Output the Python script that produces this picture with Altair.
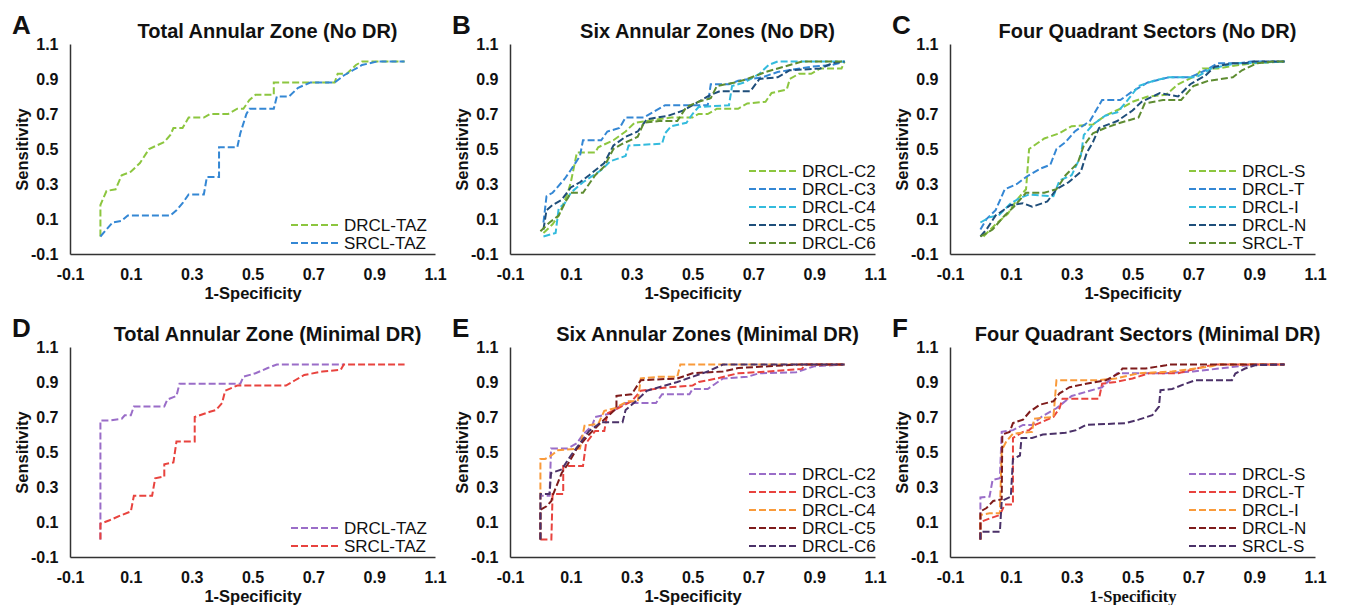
import altair as alt
import pandas as pd

FONT = "Liberation Sans"
TICKS = [-0.1, 0.1, 0.3, 0.5, 0.7, 0.9, 1.1]
W, H = 365, 210

# ---------------- Panel A : Total Annular Zone (No DR) ----------------
A_names = ["DRCL-TAZ", "SRCL-TAZ"]
A_colors = ["#8CC63F", "#3487D4"]
A_DRCL_TAZ_x = [0, 0, 0.02, 0.05, 0.07, 0.10, 0.13, 0.16, 0.21, 0.23, 0.24, 0.27, 0.29, 0.34, 0.36, 0.42, 0.45, 0.47, 0.49, 0.51, 0.57, 0.57, 0.77, 0.78, 0.81, 0.84, 0.86, 1.0]
A_DRCL_TAZ_y = [0, 0.18, 0.26, 0.27, 0.35, 0.37, 0.42, 0.50, 0.54, 0.58, 0.62, 0.62, 0.68, 0.68, 0.70, 0.70, 0.73, 0.73, 0.78, 0.81, 0.81, 0.88, 0.88, 0.93, 0.93, 0.98, 1.0, 1.0]
A_SRCL_TAZ_x = [0, 0.02, 0.04, 0.07, 0.09, 0.23, 0.25, 0.27, 0.29, 0.34, 0.35, 0.39, 0.39, 0.45, 0.46, 0.48, 0.49, 0.57, 0.58, 0.62, 0.65, 0.69, 0.77, 0.80, 0.83, 0.86, 0.91, 1.0]
A_SRCL_TAZ_y = [0, 0.04, 0.08, 0.09, 0.12, 0.12, 0.15, 0.19, 0.24, 0.24, 0.34, 0.34, 0.51, 0.51, 0.59, 0.70, 0.73, 0.73, 0.80, 0.80, 0.85, 0.88, 0.88, 0.92, 0.95, 0.98, 1.0, 1.0]

# ---------------- Panel B : Six Annular Zones (No DR) ----------------
B_names = ["DRCL-C2", "DRCL-C3", "DRCL-C4", "DRCL-C5", "DRCL-C6"]
B_colors = ["#8CC63F", "#3487D4", "#33BBDD", "#1F4E7A", "#5E8C31"]
B_C2_x = [0.01, 0.04, 0.06, 0.09, 0.10, 0.12, 0.18, 0.19, 0.24, 0.28, 0.31, 0.43, 0.50, 0.52, 0.55, 0.58, 0.65, 0.68, 0.74, 0.76, 0.81, 0.82, 0.85, 0.89, 0.92, 0.99, 1.0]
B_C2_y = [0.02, 0.07, 0.12, 0.25, 0.31, 0.48, 0.48, 0.51, 0.55, 0.60, 0.65, 0.68, 0.68, 0.70, 0.70, 0.73, 0.73, 0.76, 0.77, 0.82, 0.84, 0.90, 0.93, 0.93, 0.96, 0.96, 1.0]
B_C3_x = [0.01, 0.02, 0.04, 0.08, 0.10, 0.13, 0.14, 0.20, 0.22, 0.26, 0.28, 0.34, 0.37, 0.41, 0.47, 0.55, 0.56, 0.62, 0.65, 0.73, 0.78, 0.89, 0.96, 1.0]
B_C3_y = [0.08, 0.23, 0.25, 0.33, 0.38, 0.46, 0.55, 0.55, 0.60, 0.62, 0.68, 0.68, 0.71, 0.75, 0.75, 0.75, 0.87, 0.87, 0.89, 0.91, 0.94, 0.97, 0.98, 1.0]
B_C4_x = [0.01, 0.05, 0.06, 0.08, 0.10, 0.14, 0.20, 0.23, 0.28, 0.29, 0.40, 0.41, 0.43, 0.48, 0.50, 0.52, 0.62, 0.63, 0.67, 0.72, 0.75, 0.78, 1.0]
B_C4_y = [0.0, 0.02, 0.16, 0.19, 0.25, 0.31, 0.38, 0.43, 0.46, 0.52, 0.53, 0.59, 0.63, 0.65, 0.70, 0.74, 0.75, 0.86, 0.88, 0.93, 0.98, 1.0, 1.0]
B_C5_x = [0.01, 0.02, 0.04, 0.07, 0.10, 0.13, 0.16, 0.21, 0.24, 0.28, 0.32, 0.35, 0.42, 0.47, 0.52, 0.56, 0.59, 0.69, 0.72, 0.78, 0.82, 0.92, 0.96, 1.0]
B_C5_y = [0.04, 0.15, 0.18, 0.21, 0.28, 0.31, 0.35, 0.42, 0.52, 0.57, 0.60, 0.67, 0.69, 0.72, 0.77, 0.81, 0.83, 0.83, 0.90, 0.91, 0.95, 0.96, 0.99, 1.0]
B_C6_x = [0.0, 0.03, 0.06, 0.08, 0.10, 0.14, 0.18, 0.21, 0.24, 0.27, 0.32, 0.34, 0.39, 0.45, 0.48, 0.52, 0.56, 0.58, 0.64, 0.68, 0.74, 0.82, 0.86, 1.0]
B_C6_y = [0.03, 0.08, 0.12, 0.19, 0.25, 0.25, 0.35, 0.40, 0.50, 0.53, 0.57, 0.65, 0.66, 0.66, 0.74, 0.77, 0.79, 0.86, 0.88, 0.90, 0.94, 0.98, 1.0, 1.0]

# ---------------- Panel C : Four Quadrant Sectors (No DR) ----------------
C_names = ["DRCL-S", "DRCL-T", "DRCL-I", "DRCL-N", "SRCL-T"]
C_colors = ["#8CC63F", "#3487D4", "#33BBDD", "#1F4E7A", "#5E8C31"]
C_S_x = [0.01, 0.05, 0.09, 0.12, 0.15, 0.16, 0.21, 0.26, 0.30, 0.37, 0.41, 0.46, 0.50, 0.55, 0.61, 0.65, 0.71, 0.73, 0.78, 0.85, 0.90, 1.0]
C_S_y = [0.0, 0.07, 0.13, 0.21, 0.27, 0.50, 0.56, 0.59, 0.63, 0.64, 0.69, 0.73, 0.77, 0.80, 0.81, 0.87, 0.92, 0.96, 0.96, 0.98, 0.99, 1.0]
C_T_x = [0.0, 0.02, 0.05, 0.08, 0.12, 0.15, 0.20, 0.23, 0.25, 0.28, 0.31, 0.36, 0.40, 0.46, 0.50, 0.55, 0.62, 0.69, 0.74, 0.78, 0.85, 0.89, 1.0]
C_T_y = [0.04, 0.10, 0.15, 0.27, 0.30, 0.34, 0.39, 0.41, 0.50, 0.54, 0.60, 0.66, 0.78, 0.78, 0.83, 0.88, 0.91, 0.91, 0.95, 0.99, 0.99, 1.0, 1.0]
C_I_x = [0.0, 0.03, 0.06, 0.10, 0.13, 0.16, 0.24, 0.26, 0.30, 0.33, 0.34, 0.37, 0.41, 0.45, 0.48, 0.52, 0.57, 0.62, 0.71, 0.76, 0.84, 0.88, 1.0]
C_I_y = [0.08, 0.11, 0.12, 0.19, 0.22, 0.24, 0.23, 0.32, 0.35, 0.46, 0.58, 0.64, 0.69, 0.71, 0.77, 0.86, 0.89, 0.91, 0.91, 0.96, 0.99, 0.99, 1.0]
C_N_x = [0.0, 0.02, 0.05, 0.10, 0.14, 0.17, 0.22, 0.25, 0.29, 0.33, 0.35, 0.37, 0.39, 0.45, 0.50, 0.53, 0.59, 0.65, 0.69, 0.74, 0.77, 0.83, 0.87, 0.90, 1.0]
C_N_y = [0.0, 0.04, 0.12, 0.18, 0.19, 0.17, 0.20, 0.27, 0.31, 0.37, 0.48, 0.54, 0.62, 0.66, 0.72, 0.77, 0.82, 0.80, 0.87, 0.92, 0.97, 0.99, 0.99, 1.0, 1.0]
C_SRCL_T_x = [0.0, 0.04, 0.08, 0.11, 0.15, 0.21, 0.25, 0.28, 0.32, 0.34, 0.37, 0.41, 0.46, 0.52, 0.54, 0.60, 0.66, 0.70, 0.75, 0.83, 0.86, 0.91, 0.96, 1.0]
C_SRCL_T_y = [0.0, 0.04, 0.12, 0.17, 0.25, 0.25, 0.27, 0.35, 0.42, 0.52, 0.59, 0.62, 0.65, 0.68, 0.76, 0.78, 0.78, 0.86, 0.89, 0.91, 0.95, 0.99, 1.0, 1.0]

# ---------------- Panel D : Total Annular Zone (Minimal DR) ----------------
D_names = ["DRCL-TAZ", "SRCL-TAZ"]
D_colors = ["#9A6DC8", "#E8433E"]
D_DRCL_TAZ_x = [0, 0, 0.03, 0.07, 0.08, 0.10, 0.11, 0.21, 0.22, 0.25, 0.26, 0.46, 0.47, 0.51, 0.55, 0.58, 0.80]
D_DRCL_TAZ_y = [0, 0.68, 0.68, 0.69, 0.71, 0.71, 0.76, 0.76, 0.80, 0.82, 0.89, 0.89, 0.93, 0.95, 0.98, 1.0, 1.0]
D_SRCL_TAZ_x = [0, 0, 0.03, 0.07, 0.10, 0.11, 0.17, 0.18, 0.21, 0.21, 0.24, 0.25, 0.31, 0.31, 0.36, 0.38, 0.40, 0.41, 0.45, 0.61, 0.64, 0.67, 0.73, 0.79, 0.80, 1.0]
D_SRCL_TAZ_y = [0, 0.09, 0.11, 0.14, 0.16, 0.25, 0.25, 0.35, 0.36, 0.43, 0.44, 0.56, 0.56, 0.70, 0.73, 0.74, 0.78, 0.85, 0.88, 0.88, 0.91, 0.94, 0.96, 0.97, 1.0, 1.0]

# ---------------- Panel E : Six Annular Zones (Minimal DR) ----------------
E_names = ["DRCL-C2", "DRCL-C3", "DRCL-C4", "DRCL-C5", "DRCL-C6"]
E_colors = ["#9A6DC8", "#E8433E", "#F99A3A", "#7E1B1B", "#4B3168"]
E_C2_x = [0, 0, 0.03, 0.035, 0.09, 0.12, 0.14, 0.17, 0.18, 0.23, 0.26, 0.28, 0.38, 0.40, 0.49, 0.50, 0.55, 0.60, 0.68, 0.72, 0.84, 0.90, 1.0]
E_C2_y = [0, 0.25, 0.25, 0.52, 0.52, 0.55, 0.60, 0.65, 0.70, 0.72, 0.76, 0.78, 0.78, 0.83, 0.83, 0.86, 0.86, 0.92, 0.93, 0.95, 0.955, 0.99, 1.0]
E_C3_x = [0, 0.036, 0.04, 0.075, 0.075, 0.14, 0.15, 0.18, 0.21, 0.22, 0.255, 0.30, 0.33, 0.42, 0.50, 0.52, 0.58, 0.65, 0.75, 0.86, 0.87, 1.0]
E_C3_y = [0, 0, 0.26, 0.26, 0.42, 0.42, 0.55, 0.62, 0.62, 0.72, 0.75, 0.79, 0.85, 0.87, 0.88, 0.90, 0.92, 0.95, 0.96, 0.975, 1.0, 1.0]
E_C4_x = [0, 0, 0.015, 0.036, 0.057, 0.13, 0.145, 0.19, 0.21, 0.245, 0.286, 0.32, 0.33, 0.39, 0.45, 0.46, 1.0]
E_C4_y = [0, 0.46, 0.46, 0.48, 0.51, 0.52, 0.65, 0.66, 0.735, 0.75, 0.79, 0.79, 0.92, 0.93, 0.93, 1.0, 1.0]
E_C5_x = [0, 0, 0.02, 0.036, 0.04, 0.07, 0.09, 0.12, 0.14, 0.16, 0.20, 0.25, 0.25, 0.30, 0.33, 0.45, 0.50, 0.60, 0.65, 0.75, 0.85, 1.0]
E_C5_y = [0, 0.17, 0.19, 0.22, 0.25, 0.38, 0.43, 0.52, 0.56, 0.60, 0.67, 0.75, 0.82, 0.83, 0.91, 0.92, 0.95, 0.96, 0.98, 0.99, 1.0, 1.0]
E_C6_x = [0, 0, 0.03, 0.035, 0.07, 0.10, 0.13, 0.16, 0.20, 0.27, 0.28, 0.32, 0.35, 0.45, 0.50, 0.55, 0.60, 1.0]
E_C6_y = [0, 0.26, 0.26, 0.38, 0.40, 0.48, 0.55, 0.62, 0.67, 0.67, 0.74, 0.80, 0.85, 0.90, 0.93, 0.96, 1.0, 1.0]

# ---------------- Panel F : Four Quadrant Sectors (Minimal DR) ----------------
F_names = ["DRCL-S", "DRCL-T", "DRCL-I", "DRCL-N", "SRCL-S"]
F_colors = ["#9A6DC8", "#E8433E", "#F99A3A", "#7E1B1B", "#4B3168"]
F_S_x = [0, 0, 0.03, 0.04, 0.064, 0.07, 0.107, 0.14, 0.17, 0.20, 0.25, 0.30, 0.40, 0.45, 0.50, 0.60, 0.70, 0.80, 0.90, 1.0]
F_S_y = [0, 0.24, 0.245, 0.34, 0.35, 0.615, 0.625, 0.655, 0.655, 0.70, 0.75, 0.82, 0.87, 0.95, 0.95, 0.95, 0.96, 0.98, 1.0, 1.0]
F_T_x = [0, 0, 0.03, 0.064, 0.08, 0.107, 0.107, 0.14, 0.16, 0.18, 0.24, 0.26, 0.27, 0.39, 0.40, 0.445, 0.50, 0.555, 0.65, 0.74, 0.78, 1.0]
F_T_y = [0, 0.10, 0.12, 0.14, 0.20, 0.20, 0.58, 0.615, 0.625, 0.655, 0.70, 0.75, 0.805, 0.805, 0.89, 0.90, 0.92, 0.95, 0.95, 0.99, 1.0, 1.0]
F_I_x = [0, 0, 0.03, 0.064, 0.07, 0.085, 0.107, 0.17, 0.176, 0.24, 0.25, 0.38, 0.445, 0.52, 0.63, 0.707, 0.76, 0.78, 1.0]
F_I_y = [0, 0.14, 0.15, 0.15, 0.51, 0.56, 0.605, 0.615, 0.69, 0.70, 0.91, 0.91, 0.92, 0.95, 0.96, 0.977, 0.99, 1.0, 1.0]
F_N_x = [0, 0, 0.02, 0.042, 0.07, 0.072, 0.096, 0.107, 0.14, 0.162, 0.195, 0.24, 0.26, 0.293, 0.347, 0.413, 0.456, 0.467, 0.543, 0.61, 0.62, 1.0]
F_N_y = [0, 0.16, 0.18, 0.22, 0.23, 0.60, 0.615, 0.665, 0.685, 0.73, 0.77, 0.79, 0.835, 0.87, 0.89, 0.91, 0.95, 0.977, 0.977, 0.996, 1.0, 1.0]
F_SRCL_S_x = [0, 0, 0.064, 0.07, 0.10, 0.107, 0.13, 0.135, 0.17, 0.205, 0.28, 0.315, 0.347, 0.478, 0.52, 0.565, 0.587, 0.592, 0.63, 0.674, 0.707, 0.827, 0.838, 0.87, 0.903, 1.0]
F_SRCL_S_y = [0, 0.045, 0.045, 0.22, 0.245, 0.46, 0.48, 0.58, 0.58, 0.60, 0.61, 0.625, 0.655, 0.665, 0.685, 0.71, 0.76, 0.853, 0.86, 0.89, 0.91, 0.91, 0.948, 0.977, 0.996, 1.0]


def build_df(names, xs_list, ys_list):
    rows = []
    for name, xs, ys in zip(names, xs_list, ys_list):
        for i, (xv, yv) in enumerate(zip(xs, ys)):
            rows.append({"series": name, "i": i, "x": xv, "y": yv})
    return pd.DataFrame(rows)


LABEL_EXPR = "(datum.value < 0 ? '-' : '') + format(abs(datum.value), '.1f')"


def panel(letter, title, names, colors, xs_list, ys_list, leg_x0, x_title_font=FONT):
    df = build_df(names, xs_list, ys_list)
    cscale = alt.Scale(domain=names, range=colors)
    sc = alt.Scale(domain=[-0.1, 1.1], nice=False, zero=False)
    lines = alt.Chart(df).mark_line(strokeDash=[7, 3], strokeWidth=2).encode(
        x=alt.X("x:Q", scale=sc,
                axis=alt.Axis(values=TICKS, title="1-Specificity", labelExpr=LABEL_EXPR,
                              titleFont=x_title_font)),
        y=alt.Y("y:Q", scale=sc,
                axis=alt.Axis(values=TICKS, title="Sensitivity", labelExpr=LABEL_EXPR)),
        color=alt.Color("series:N", scale=cscale, legend=None),
        order="i:Q",
    )
    layers = [lines]
    n = len(names)
    for k, name in enumerate(names):
        ly = H - 11 - (n - 1 - k) * 18
        d = pd.DataFrame({"series": [name]})
        layers.append(
            alt.Chart(d).mark_rule(strokeDash=[7, 3], strokeWidth=2).encode(
                x=alt.value(leg_x0), x2=alt.value(leg_x0 + 50), y=alt.value(ly),
                color=alt.Color("series:N", scale=cscale, legend=None),
            )
        )
        layers.append(
            alt.Chart(d).mark_text(align="left", baseline="middle", fontSize=17, font=FONT,
                                   color="#111").encode(
                x=alt.value(leg_x0 + 53), y=alt.value(ly + 1), text="series:N"
            )
        )
    # panel letter and panel title
    layers.append(
        alt.Chart(pd.DataFrame({"t": [letter]})).mark_text(
            align="left", baseline="alphabetic", fontSize=26, fontWeight="bold", font=FONT,
            color="#111").encode(x=alt.value(-58), y=alt.value(-10), text="t:N")
    )
    layers.append(
        alt.Chart(pd.DataFrame({"t": [title]})).mark_text(
            align="center", baseline="alphabetic", fontSize=20, fontWeight="bold", font=FONT,
            color="#111").encode(x=alt.value(W / 2 + 15), y=alt.value(-6), text="t:N")
    )
    return alt.layer(*layers).properties(width=W, height=H)


pA = panel("A", "Total Annular Zone (No DR)", A_names, A_colors,
           [A_DRCL_TAZ_x, A_SRCL_TAZ_x], [A_DRCL_TAZ_y, A_SRCL_TAZ_y], 221)
pB = panel("B", "Six Annular Zones (No DR)", B_names, B_colors,
           [B_C2_x, B_C3_x, B_C4_x, B_C5_x, B_C6_x], [B_C2_y, B_C3_y, B_C4_y, B_C5_y, B_C6_y], 239)
pC = panel("C", "Four Quadrant Sectors (No DR)", C_names, C_colors,
           [C_S_x, C_T_x, C_I_x, C_N_x, C_SRCL_T_x], [C_S_y, C_T_y, C_I_y, C_N_y, C_SRCL_T_y], 239)
pD = panel("D", "Total Annular Zone (Minimal DR)", D_names, D_colors,
           [D_DRCL_TAZ_x, D_SRCL_TAZ_x], [D_DRCL_TAZ_y, D_SRCL_TAZ_y], 221)
pE = panel("E", "Six Annular Zones (Minimal DR)", E_names, E_colors,
           [E_C2_x, E_C3_x, E_C4_x, E_C5_x, E_C6_x], [E_C2_y, E_C3_y, E_C4_y, E_C5_y, E_C6_y], 239)
pF = panel("F", "Four Quadrant Sectors (Minimal DR)", F_names, F_colors,
           [F_S_x, F_T_x, F_I_x, F_N_x, F_SRCL_S_x], [F_S_y, F_T_y, F_I_y, F_N_y, F_SRCL_S_y], 239,
           x_title_font="Liberation Serif")

chart = alt.concat(pA, pB, pC, pD, pE, pF, columns=3,
                   spacing={"row": 93, "column": 75}, bounds="flush").resolve_scale(
    color="independent"
).properties(
    padding={"left": 4, "top": 5, "right": 5, "bottom": 0}
).configure_view(stroke=None).configure_axis(
    domainColor="#333", domainWidth=1.5, ticks=False, tickSize=0, grid=False,
    labelFont=FONT, labelFontSize=16, labelFontWeight="bold", labelColor="#111",
    labelPadding=12, labelFlush=False, labelOverlap=False,
    titleFont=FONT, titleFontSize=16.5, titleFontWeight="bold", titleColor="#111",
).configure_axisX(titlePadding=3).configure_axisY(titlePadding=0)

chart.save("out.html", embed_options={"renderer": "svg", "actions": False})
